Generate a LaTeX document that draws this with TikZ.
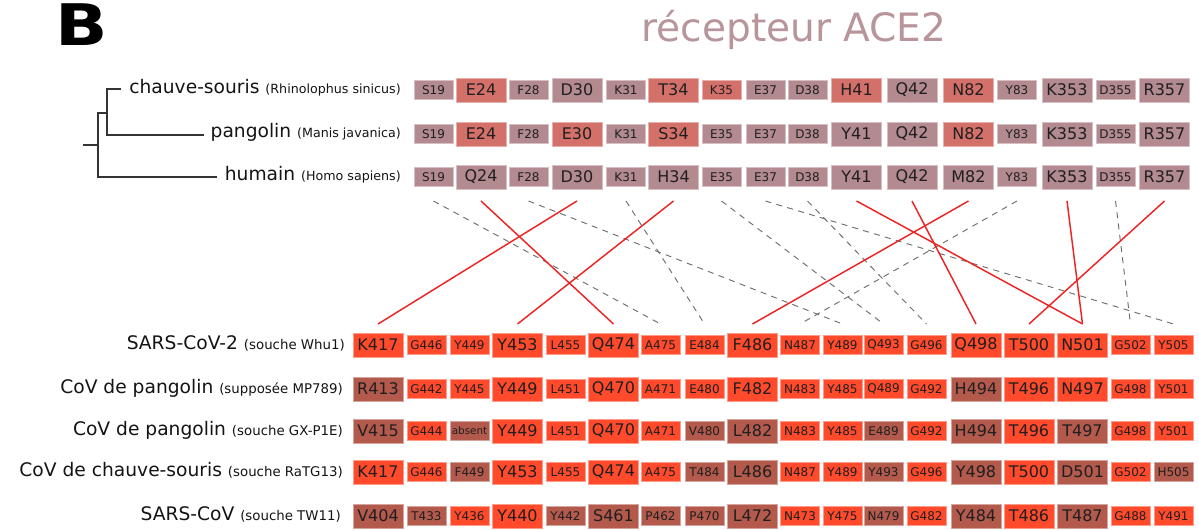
\documentclass[tikz,border=0pt]{standalone}
\usepackage{fontspec}
\setmainfont{DejaVu Sans}
\definecolor{cM}{HTML}{B28A90}
\definecolor{cS}{HTML}{D4706A}
\definecolor{cO}{HTML}{FF4A2C}
\definecolor{cB}{HTML}{B35A4D}
\definecolor{titlec}{HTML}{B8959A}
\definecolor{linered}{HTML}{EE2424}
\definecolor{dashg}{HTML}{6E6E6E}
\definecolor{treec}{HTML}{333333}
\newcommand\pfont{\fontsize{9.5}{10}\selectfont}
\newcommand\qfont{\fontsize{10}{10}\selectfont}
\newcommand\absnt{{\fontsize{7.8}{8}\selectfont absent}}
\def\topX{{433.5,481,528.5,577,626,673.5,721.5,765.5,807.5,856.5,912,968.5,1017,1067,1115.5,1164.5}}
\def\topL{{0,1,0,1,0,1,0,0,0,1,1,1,0,1,0,1}}
\def\botX{{378,426.5,469.5,517.5,565.5,613.5,660.5,704.5,752.5,800,842.5,883.5,926.5,976,1029,1082.5,1130.5,1173.5}}
\def\botL{{1,0,0,1,0,1,0,0,1,0,0,0,0,1,1,1,0,0}}
\tikzset{
  x=0.75pt, y=-0.75pt,
  res/.style={rectangle, inner sep=0pt, text=black!88, line width=0.5pt},
  sm/.style={res, minimum width=29.25pt, minimum height=14.25pt, font=\fontsize{9}{9}\selectfont},
  lg/.style={res, minimum width=37.5pt, minimum height=18pt, font=\fontsize{12}{12}\selectfont},
  lab/.style={inner sep=0pt, anchor=mid east, font=\fontsize{14}{14}\selectfont, text=black!92},
  tree/.style={draw=treec, line width=0.8pt},
  redl/.style={draw=linered, line width=1.1pt},
  dashl/.style={draw=dashg, line width=0.7pt, dash pattern=on 4.5pt off 4pt},
}
\newcommand\resrow[5]{%
  \foreach \c/\t [count=\i] in {#5}{%
    \pgfmathsetmacro\xx{#3[\i-1]}%
    \pgfmathtruncatemacro\ll{#4[\i-1]}%
    \ifnum\ll=1
      \node[lg, fill=\c, draw=\c!55!white] (#1-\i) at (\xx,#2) {\t};
    \else
      \node[sm, fill=\c, draw=\c!55!white] (#1-\i) at (\xx,#2) {\t};
    \fi
  }%
}
\begin{document}
\begin{tikzpicture}
\clip (0,0) rectangle (1199,530);
\fill[white] (0,0) rectangle (1199,530);

% panel letter and title
\node[inner sep=0pt, anchor=base west, xscale=1.2, font=\fontsize{43}{43}\selectfont\bfseries] (panel) at (55.5,46) {B};
\node[inner sep=0pt, anchor=base, font=\fontsize{29.3}{29.3}\selectfont, text=titlec] (title) at (794,42) {récepteur ACE2};

% ACE2 rows
\resrow{c}{90}{\topX}{\topL}{cM/S19,cS/E24,cM/F28,cM/D30,cM/K31,cS/T34,cS/K35,cM/E37,cM/D38,cS/H41,cM/Q42,cS/N82,cM/Y83,cM/K353,cM/D355,cM/R357}
\resrow{p}{134}{\topX}{\topL}{cM/S19,cS/E24,cM/F28,cS/E30,cM/K31,cS/S34,cM/E35,cM/E37,cM/D38,cM/Y41,cM/Q42,cS/N82,cM/Y83,cM/K353,cM/D355,cM/R357}
\resrow{h}{177}{\topX}{\topL}{cM/S19,cM/Q24,cM/F28,cM/D30,cM/K31,cM/H34,cM/E35,cM/E37,cM/D38,cM/Y41,cM/Q42,cM/M82,cM/Y83,cM/K353,cM/D355,cM/R357}

\node[lab] (lc) at (401,90) {chauve-souris {\pfont (Rhinolophus sinicus)}};
\node[lab] (lp) at (401,134) {pangolin {\pfont (Manis javanica)}};
\node[lab] (lh) at (401,177) {humain {\pfont (Homo sapiens)}};

% tree
\coordinate (rc) at (0,89);
\coordinate (rp) at (0,135);
\coordinate (rh) at (0,177);
\coordinate (rt) at (83,145);
\coordinate (n0) at (98,145);
\coordinate (n1a) at (98,113);
\coordinate (n1) at (107,113);
\draw[tree] (rt) -- (n0);
\draw[tree] ([xshift=-6pt]lh.west |- rh) -| (n1a) -- (n1);
\draw[tree] ([xshift=-6pt]lc.west |- rc) -| (n1) |- ([xshift=-5pt]lp.west |- rp);

% spike rows
\resrow{s1}{345}{\botX}{\botL}{cO/K417,cO/G446,cO/Y449,cO/Y453,cO/L455,cO/Q474,cO/A475,cO/E484,cO/F486,cO/N487,cO/Y489,cO/Q493,cO/G496,cO/Q498,cO/T500,cO/N501,cO/G502,cO/Y505}
\resrow{s2}{389}{\botX}{\botL}{cB/R413,cO/G442,cO/Y445,cO/Y449,cO/L451,cO/Q470,cO/A471,cO/E480,cO/F482,cO/N483,cO/Y485,cO/Q489,cO/G492,cB/H494,cO/T496,cO/N497,cO/G498,cO/Y501}
\resrow{s3}{431}{\botX}{\botL}{cB/V415,cO/G444,cB/\absnt,cO/Y449,cO/L451,cO/Q470,cO/A471,cB/V480,cB/L482,cO/N483,cO/Y485,cB/E489,cO/G492,cB/H494,cO/T496,cB/T497,cO/G498,cO/Y501}
\resrow{s4}{472}{\botX}{\botL}{cO/K417,cO/G446,cB/F449,cO/Y453,cO/L455,cO/Q474,cO/A475,cB/T484,cB/L486,cO/N487,cO/Y489,cB/Y493,cO/G496,cB/Y498,cO/T500,cB/D501,cO/G502,cB/H505}
\resrow{s5}{516}{\botX}{\botL}{cB/V404,cB/T433,cO/Y436,cO/Y440,cB/Y442,cB/S461,cB/P462,cB/P470,cB/L472,cO/N473,cO/Y475,cB/N479,cO/G482,cB/Y484,cO/T486,cB/T487,cO/G488,cO/Y491}

\node[lab] (l1) at (345,346) {SARS-CoV-2 {\qfont (souche Whu1)}};
\node[lab] (l2) at (343,390) {CoV de pangolin {\qfont (supposée MP789)}};
\node[lab] (l3) at (343,432) {CoV de pangolin {\qfont (souche GX-P1E)}};
\node[lab] (l4) at (343,473) {CoV de chauve-souris {\qfont (souche RaTG13)}};
\node[lab] (l5) at (341,517) {SARS-CoV {\qfont (souche TW11)}};

% connectors
\coordinate (ct) at (0,201);
\coordinate (cb) at (0,324);
\foreach \a/\b in {1/7,3/11,5/8,7/12,8/18,9/13,13/10,15/17}
  \draw[dashl] (h-\a.south |- ct) -- (s1-\b.north |- cb);
\foreach \a/\b in {2/6,4/1,6/4,10/16,11/14,12/9,14/16,16/15}
  \draw[redl] (h-\a.south |- ct) -- (s1-\b.north |- cb);
\end{tikzpicture}
\end{document}
